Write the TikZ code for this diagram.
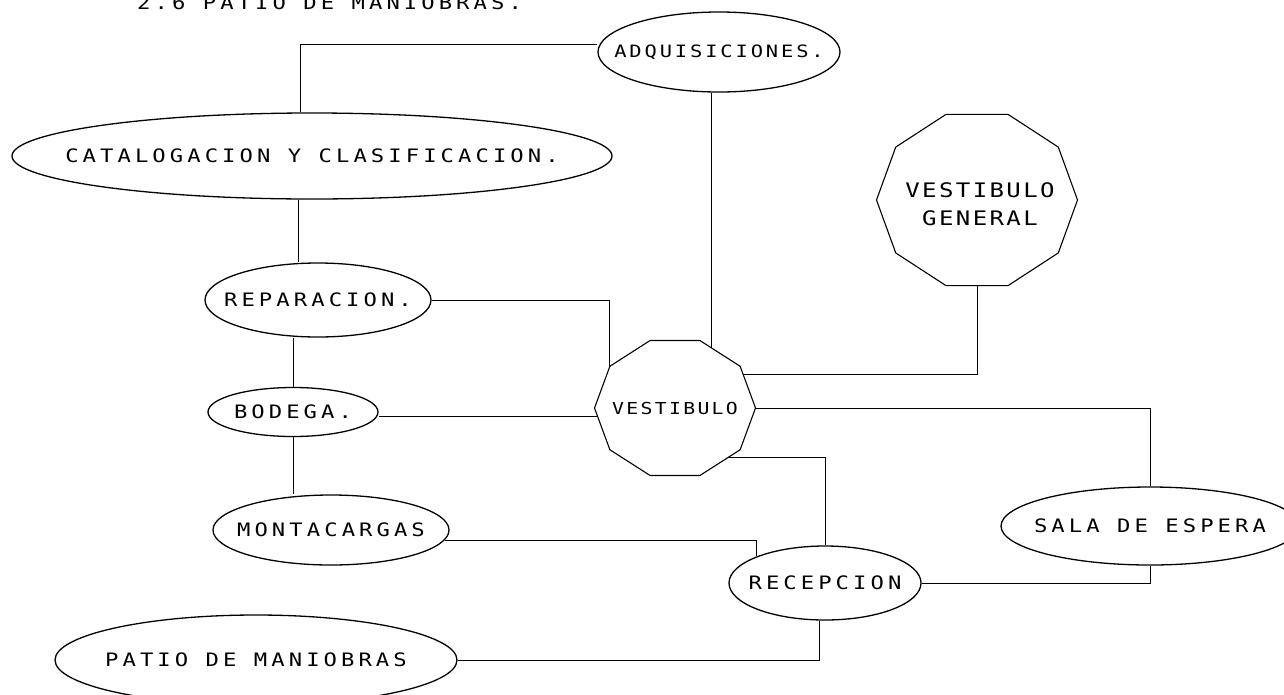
\documentclass[tikz,border=0pt]{standalone}
\usepackage{fontspec}
\usetikzlibrary{shapes.geometric,calc}
\newfontfamily\plotA[LetterSpace=22,FakeStretch=1.2]{DejaVu Sans Mono}
\newfontfamily\plotB[LetterSpace=14,FakeStretch=1.2]{DejaVu Sans Mono}
\newfontfamily\plotC[LetterSpace=17,FakeStretch=1.2]{DejaVu Sans Mono}
\newfontfamily\plotD[LetterSpace=12,FakeStretch=1.2]{DejaVu Sans Mono}
\newcommand\ztxt[1]{\makebox[0pt]{#1}}
\tikzset{
  oval/.style={ellipse, draw, line width=1.3pt, inner sep=0pt},
  conn/.style={line width=0.9pt},
  shapeline/.style={line width=1.1pt, line join=round},
  bigtxt/.style={font=\plotA\fontsize{18.5}{22}\selectfont},
  smalltxt/.style={font=\plotB\fontsize{16.5}{20}\selectfont},
  adqtxt/.style={font=\plotC\fontsize{17}{20}\selectfont},
  vgtxt/.style={font=\plotD\fontsize{20}{28}\selectfont},
}
\begin{document}
\begin{tikzpicture}[x=1pt,y=-1pt]
\useasboundingbox (0,0) rectangle (1284,694);
\fill[white] (0,0) rectangle (1284,694);

\node[bigtxt, anchor=base west, inner sep=0pt] (title) at (137,9) {2.6 PATIO DE MANIOBRAS.};

% ellipses
\node[oval, bigtxt, minimum width=600pt, minimum height=86pt] (cat) at (312,156) {\ztxt{CATALOGACION Y CLASIFICACION.}};
\node[oval, adqtxt, minimum width=242pt, minimum height=80pt] (adq) at (719,52) {\ztxt{ADQUISICIONES.}};
\node[oval, bigtxt, minimum width=226pt, minimum height=74pt] (rep) at (318,300) {\ztxt{REPARACION.}};
\node[oval, bigtxt, minimum width=170pt, minimum height=49pt] (bod) at (293,412) {\ztxt{BODEGA.}};
\node[oval, bigtxt, minimum width=236pt, minimum height=70pt] (mont) at (331,530) {\ztxt{MONTACARGAS}};
\node[oval, bigtxt, minimum width=192pt, minimum height=74pt] (rec) at (825,583) {\ztxt{RECEPCION}};
\node[oval, bigtxt, minimum width=298pt, minimum height=78pt] (sala) at (1150,526) {\ztxt{SALA DE ESPERA}};
\node[oval, bigtxt, minimum width=402pt, minimum height=90pt] (patio) at (256,660) {\ztxt{PATIO DE MANIOBRAS}};

% decagons
\node[smalltxt, inner sep=0pt] (vest) at (675,408) {VESTIBULO};
\begin{scope}[shift={(vest.center)}, x=80.5pt, y=71pt]
  \draw[shapeline] (0:1) -- (36:1) -- (72:1) -- (108:1) -- (144:1) -- (180:1)
     -- (216:1) -- (252:1) -- (288:1) -- (324:1) -- cycle;
  \foreach \i in {0,...,9} { \coordinate (v\i) at (\i*36:1); }
\end{scope}
\node[vgtxt, align=center, inner sep=0pt] (vg) at (980,204) {VESTIBULO\\GENERAL};
\begin{scope}[shift={(977,200)}, x=100.5pt, y=90pt]
  \draw[shapeline] (0:1) -- (36:1) -- (72:1) -- (108:1) -- (144:1) -- (180:1)
     -- (216:1) -- (252:1) -- (288:1) -- (324:1) -- cycle;
  \coordinate (gS) at (270:0.951);
\end{scope}

\coordinate (vA) at ($(v2)!0.28!(v1)$);
\coordinate (vB) at ($(v1)!0.2!(v0)$);
\coordinate (vC) at ($(v9)!0.3!(v8)$);
\coordinate (vD) at ($(v5)!0.2!(v6)$);

% connectors
\draw[conn] (adq.west |- 0,44) -| (cat.north -| 300,0);
\draw[conn] (adq.south -| vA) -- (vA);
\draw[conn] (cat.south -| 298,0) -- (rep.north -| 298,0);
\draw[conn] (rep.east) -| (v4);
\draw[conn] (rep.south -| bod.north) -- (bod.north);
\draw[conn] (bod.east |- vD) -- (vD);
\draw[conn] (bod.south) -- (bod.south |- mont.north);
\draw[conn] (mont.-5) -| (rec.north west);
\draw[conn] (vB) -| (gS);
\draw[conn] (v0) -| (sala.north);
\draw[conn] (vC) -| (rec.north);
\draw[conn] (rec.east) -| (sala.south);
\draw[conn] (rec.south -| 819,0) |- (patio.east);
\end{tikzpicture}
\end{document}
